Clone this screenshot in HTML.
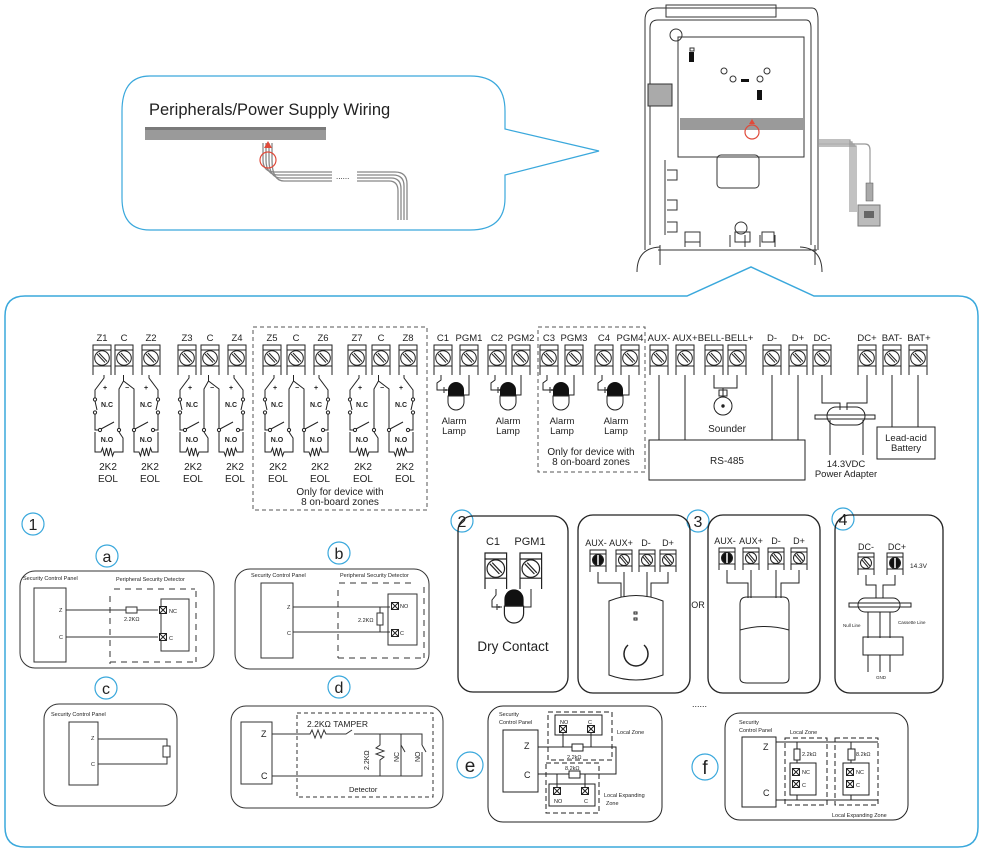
<!DOCTYPE html>
<html><head><meta charset="utf-8"><style>
html,body{margin:0;padding:0;background:#fff}
svg{display:block}
text{font-family:"Liberation Sans",sans-serif;fill:#222}
</style></head><body>
<svg width="985" height="853" viewBox="0 0 985 853" xmlns="http://www.w3.org/2000/svg">
<defs>
<g id="t" fill="none" stroke="#222" stroke-width="1">
<path d="M0,30 V0 H18 V30"/><line x1="0" y1="5" x2="18" y2="5"/><line x1="0" y1="21" x2="18" y2="21"/>
<circle cx="9" cy="13" r="7.3" fill="#fff"/><line x1="4" y1="9" x2="12" y2="17.5"/><line x1="6" y1="8" x2="14" y2="16.5"/>
</g>
<g id="tb" fill="none" stroke="#222" stroke-width="1">
<path d="M0,22 V0 H16 V22"/><line x1="0" y1="4" x2="16" y2="4"/><line x1="0" y1="16" x2="16" y2="16"/>
<circle cx="8" cy="10" r="5.5" fill="#111"/><line x1="8" y1="5" x2="8" y2="15" stroke="#fff" stroke-width="1.5"/>
</g>
<g id="tw" fill="none" stroke="#222" stroke-width="1">
<path d="M0,22 V0 H16 V22"/><line x1="0" y1="4" x2="16" y2="4"/><line x1="0" y1="16" x2="16" y2="16"/>
<circle cx="8" cy="10" r="5.5" fill="#fff"/><line x1="4" y1="7" x2="10" y2="14"/><line x1="6" y1="6" x2="12" y2="13"/>
</g>
<g id="zp" fill="none" stroke="#222" stroke-width="1">
<path d="M2,375 V378 L-7,390 V398"/><path d="M-7,401 L-5,410"/><path d="M-7,414 V430 H-3"/>
<circle cx="-7" cy="399.5" r="1.6"/><circle cx="-7" cy="412.5" r="1.6"/>
<circle cx="-2" cy="430" r="1.6"/><path d="M-1,429 L12,422"/><circle cx="17" cy="430" r="1.6"/>
<path d="M21.5,375 V381 L17,389 V428"/><path d="M21.5,381 L32,389 V428"/>
<circle cx="32" cy="430" r="1.6"/><path d="M33,429 L46,422"/><circle cx="51" cy="430" r="1.6"/>
<path d="M47,375 V378 L56,390 V398"/><path d="M56,401 L54,410"/><path d="M56,414 V430 H52"/>
<circle cx="56" cy="399.5" r="1.6"/><circle cx="56" cy="412.5" r="1.6"/>
<path d="M-7,432 V452 H-1 l1.5,-4 l2,8 l2,-8 l2,8 l2,-8 l2,8 l1.5,-4 H21 V438 L17,432"/>
<path d="M56,432 V452 H50 l-1.5,-4 l-2,8 l-2,-8 l-2,8 l-2,-8 l-2,8 l-1.5,-4 H32 V438 L32,432"/>
</g>
<g id="zt" font-size="7" font-weight="bold">
<text x="3" y="390" text-anchor="middle">+</text><text x="25" y="390" text-anchor="middle">−</text><text x="44" y="390" text-anchor="middle">+</text>
<text x="5" y="407" text-anchor="middle">N.C</text><text x="44" y="407" text-anchor="middle">N.C</text>
<text x="5" y="442" text-anchor="middle">N.O</text><text x="44" y="442" text-anchor="middle">N.O</text>
</g>
<g id="lamp"><path d="M-8,0 A8,8 0 0 1 8,0 V6 H-8 Z" fill="#111"/><path d="M-8,6 H8 V12 A8,8 0 0 1 -8,12 Z" fill="#fff" stroke="#222"/></g>
<g id="xb"><rect x="-3.5" y="-3.5" width="7" height="7" fill="#fff" stroke="#222"/><path d="M-3.5,-3.5 L3.5,3.5 M3.5,-3.5 L-3.5,3.5" stroke="#222"/></g>
</defs>

<!-- top callout -->
<path d="M150,76 H470 Q505,76 505,111 V129 L599,151 L505,175 V198 Q505,230 470,230 H150 Q122,230 122,198 V111 Q122,76 150,76 Z" fill="#fff" stroke="#3aa8dc" stroke-width="1.2"/>
<text x="149" y="115" font-size="16.5" fill="#333">Peripherals/Power Supply Wiring</text>
<rect x="145" y="127" width="181" height="13" fill="#9a9a9a"/>
<rect x="145" y="127" width="181" height="3" fill="#7a7a7a"/>
<g stroke="#888" stroke-width="1.3" fill="none">
<path d="M263,143 V160 Q263,172 275,172 H332"/><path d="M266,143 V160 Q266,175 278,175 H332"/><path d="M269,143 V160 Q269,178 281,178 H332"/><path d="M272,143 V160 Q272,181 284,181 H332"/>
<path d="M357,172 H395 Q407,172 407,184 V220"/><path d="M357,175 H393 Q404,175 404,186 V220"/><path d="M357,178 H391 Q401,178 401,189 V220"/><path d="M357,181 H389 Q398,181 398,191 V220"/>
</g>
<text x="336" y="179" font-size="8" fill="#555">......</text>
<circle cx="268" cy="160" r="8" fill="none" stroke="#e04a3a" stroke-width="1.2"/>
<path d="M264,148 L268,141 L272,148 Z" fill="#e04a3a"/>

<!-- device -->
<g fill="none" stroke="#333" stroke-width="1">
<path d="M645,250 V20 Q645,8 657,8 H812 Q818,8 818,20 V250"/>
<path d="M650,245 V28 Q650,20 658,20 H806 Q811,20 811,28 V245"/>
<rect x="666" y="5" width="110" height="12"/>
<rect x="678" y="37" width="126" height="120"/>
<path d="M658,250 H817 M660,245 V265 M815,245 V265"/>
<path d="M637,272 Q637,248 660,247 M822,272 Q822,248 800,247"/>
<path d="M665,160 V235 M667,170 h10 v10 h-10 M667,200 h10 v10 h-10 M667,222 h10 v10 h-10"/>
<rect x="717" y="155" width="42" height="33" rx="4"/>
<circle cx="676" cy="35" r="6"/><circle cx="741" cy="228" r="6"/>
<path d="M685,235 v12 M700,235 v12 M730,235 v12 M745,235 v12 M760,235 v12 M775,235 v12"/>
<rect x="685" y="232" width="15" height="10"/><rect x="735" y="232" width="15" height="10"/><rect x="762" y="232" width="12" height="10"/>
</g>
<rect x="690" y="48" width="4" height="3" fill="none" stroke="#333"/>
<rect x="689" y="52" width="5" height="10" fill="#111"/><rect x="757" y="90" width="5" height="10" fill="#111"/>
<rect x="741" y="79" width="8" height="3" fill="#111"/>
<circle cx="724" cy="71" r="3" fill="none" stroke="#333"/><circle cx="767" cy="71" r="3" fill="none" stroke="#333"/>
<circle cx="733" cy="79" r="3" fill="none" stroke="#333"/><circle cx="760" cy="79" r="3" fill="none" stroke="#333"/>
<rect x="648" y="84" width="24" height="22" fill="#aaa" stroke="#333"/>
<rect x="680" y="118" width="123" height="12" fill="#9a9a9a"/>
<circle cx="752" cy="132" r="7" fill="none" stroke="#e04a3a" stroke-width="1.2"/>
<path d="M749,124 L752,119 L755,124 Z" fill="#e04a3a"/>
<g stroke="#999" stroke-width="1.2" fill="none">
<path d="M818,140 H850 V212"/><path d="M818,142 H852 V212"/><path d="M818,144 H854 V212"/><path d="M818,146 H856 V212"/><path d="M818,144 H865 Q870,144 870,150 V185"/>
</g>
<rect x="866" y="183" width="7" height="18" fill="#aaa" stroke="#555" stroke-width="0.5"/>
<rect x="858" y="205" width="22" height="21" fill="#bbb" stroke="#777"/>
<rect x="864" y="211" width="10" height="7" fill="#666"/>

<!-- main frame -->
<path d="M25,296 H687 L751,267 L814,296 H958 Q978,296 978,316 V827 Q978,847 958,847 H25 Q5,847 5,827 V316 Q5,296 25,296 Z" fill="none" stroke="#3aa8dc" stroke-width="1.5"/>

<!-- dashed boxes -->
<rect x="253" y="327" width="174" height="183" fill="none" stroke="#555" stroke-dasharray="4,3"/>
<rect x="538" y="327" width="107" height="145" fill="none" stroke="#555" stroke-dasharray="4,3"/>

<!-- terminal labels -->
<g font-size="9.5" text-anchor="middle">
<text x="102" y="341">Z1</text><text x="124" y="341">C</text><text x="151" y="341">Z2</text>
<text x="187" y="341">Z3</text><text x="210" y="341">C</text><text x="237" y="341">Z4</text>
<text x="272" y="341">Z5</text><text x="296" y="341">C</text><text x="323" y="341">Z6</text>
<text x="357" y="341">Z7</text><text x="381" y="341">C</text><text x="408" y="341">Z8</text>
<text x="443" y="341">C1</text><text x="469" y="341">PGM1</text><text x="497" y="341">C2</text><text x="521" y="341">PGM2</text>
<text x="549" y="341">C3</text><text x="574" y="341">PGM3</text><text x="604" y="341">C4</text><text x="630" y="341">PGM4</text>
<text x="659" y="341">AUX-</text><text x="685" y="341">AUX+</text><text x="711" y="341">BELL-</text><text x="739" y="341">BELL+</text>
<text x="772" y="341">D-</text><text x="798" y="341">D+</text><text x="822" y="341">DC-</text>
<text x="867" y="341">DC+</text><text x="892" y="341">BAT-</text><text x="919" y="341">BAT+</text>
</g>
<g>
<use href="#t" x="93" y="345"/><use href="#t" x="115" y="345"/><use href="#t" x="142" y="345"/>
<use href="#t" x="178" y="345"/><use href="#t" x="201" y="345"/><use href="#t" x="228" y="345"/>
<use href="#t" x="263" y="345"/><use href="#t" x="287" y="345"/><use href="#t" x="314" y="345"/>
<use href="#t" x="348" y="345"/><use href="#t" x="372" y="345"/><use href="#t" x="399" y="345"/>
<use href="#t" x="434" y="345"/><use href="#t" x="460" y="345"/><use href="#t" x="488" y="345"/><use href="#t" x="512" y="345"/>
<use href="#t" x="540" y="345"/><use href="#t" x="565" y="345"/><use href="#t" x="595" y="345"/><use href="#t" x="621" y="345"/>
<use href="#t" x="650" y="345"/><use href="#t" x="676" y="345"/><use href="#t" x="705" y="345"/><use href="#t" x="728" y="345"/>
<use href="#t" x="763" y="345"/><use href="#t" x="789" y="345"/><use href="#t" x="813" y="345"/>
<use href="#t" x="858" y="345"/><use href="#t" x="883" y="345"/><use href="#t" x="909" y="345"/>
</g>
<use href="#zp" x="102" y="0"/><use href="#zp" x="187" y="0"/><use href="#zp" x="272" y="0"/><use href="#zp" x="357" y="0"/>
<use href="#zt" x="102" y="0"/><use href="#zt" x="187" y="0"/><use href="#zt" x="272" y="0"/><use href="#zt" x="357" y="0"/>
<g font-size="10" text-anchor="middle">
<text x="108" y="470">2K2</text><text x="108" y="482">EOL</text><text x="150" y="470">2K2</text><text x="150" y="482">EOL</text>
<text x="193" y="470">2K2</text><text x="193" y="482">EOL</text><text x="235" y="470">2K2</text><text x="235" y="482">EOL</text>
<text x="278" y="470">2K2</text><text x="278" y="482">EOL</text><text x="320" y="470">2K2</text><text x="320" y="482">EOL</text>
<text x="363" y="470">2K2</text><text x="363" y="482">EOL</text><text x="405" y="470">2K2</text><text x="405" y="482">EOL</text>
<text x="340" y="495">Only for device with</text><text x="340" y="505">8 on-board zones</text>
<text x="591" y="455">Only for device with</text><text x="591" y="465">8 on-board zones</text>
</g>
<!-- alarm lamps -->
<g fill="none" stroke="#222">
<path d="M441,375 V380 L437,383 V390 H448 M444,387 V393 M446,389 V391 M469,375 V395 H461"/>
<path d="M495,375 V380 L491,383 V390 H502 M498,387 V393 M500,389 V391 M521,375 V395 H515"/>
<path d="M547,375 V380 L543,383 V390 H554 M550,387 V393 M552,389 V391 M574,375 V395 H566"/>
<path d="M602,375 V380 L598,383 V390 H609 M605,387 V393 M607,389 V391 M629,375 V395 H621"/>
</g>
<use href="#lamp" x="456" y="390"/><use href="#lamp" x="508" y="390"/><use href="#lamp" x="561" y="390"/><use href="#lamp" x="615" y="390"/>
<g font-size="9.5" text-anchor="middle">
<text x="454" y="424">Alarm</text><text x="454" y="434">Lamp</text><text x="508" y="424">Alarm</text><text x="508" y="434">Lamp</text>
<text x="562" y="424">Alarm</text><text x="562" y="434">Lamp</text><text x="616" y="424">Alarm</text><text x="616" y="434">Lamp</text>
</g>
<!-- AUX / bell / RS485 -->
<g fill="none" stroke="#222">
<path d="M659,375 V440 M685,375 V440 M772,375 V440 M798,375 V440"/>
<rect x="649" y="440" width="156" height="40"/>
<path d="M714,375 V388 H737 V375 M723,388 V396"/>
<rect x="719" y="390" width="8" height="6"/>
<circle cx="723" cy="406" r="9"/><circle cx="723" cy="406" r="1.2" fill="#222"/>
<path d="M822,375 V403 H840 V410 M867,375 V403 H847 V410"/>
<rect x="815" y="415" width="60" height="4"/>
<rect x="827" y="407" width="38" height="18" rx="9"/>
<path d="M830,420 V455 M863,420 V455"/>
<path d="M892,375 V427 M918,375 V427"/>
<rect x="877" y="427" width="58" height="32"/>
</g>
<text x="727" y="464" font-size="10" text-anchor="middle">RS-485</text>
<text x="727" y="432" font-size="10" text-anchor="middle">Sounder</text>
<text x="846" y="467" font-size="9.5" text-anchor="middle">14.3VDC</text>
<text x="846" y="477" font-size="9.5" text-anchor="middle">Power Adapter</text>
<text x="906" y="441" font-size="9.5" text-anchor="middle">Lead-acid</text>
<text x="906" y="451" font-size="9.5" text-anchor="middle">Battery</text>

<!-- circled numbers -->
<g fill="#fff" stroke="#3aa8dc" stroke-width="1.2">
<circle cx="33" cy="524" r="11"/><circle cx="107" cy="556" r="11"/><circle cx="339" cy="553" r="11"/>
<circle cx="106" cy="688" r="11"/><circle cx="339" cy="687" r="11"/>
<circle cx="462" cy="521" r="11"/><circle cx="698" cy="521" r="11"/><circle cx="843" cy="519" r="11"/>
<circle cx="470" cy="765" r="13"/><circle cx="705" cy="767" r="13"/>
</g>
<g font-size="16" fill="#3aa8dc" text-anchor="middle">
<text x="33" y="530" fill="#3aa8dc">1</text><text x="107" y="562" fill="#3aa8dc">a</text><text x="339" y="559" fill="#3aa8dc">b</text>
<text x="106" y="694" fill="#3aa8dc">c</text><text x="339" y="693" fill="#3aa8dc">d</text>
<text x="462" y="527" fill="#3aa8dc">2</text><text x="698" y="527" fill="#3aa8dc">3</text><text x="843" y="525" fill="#3aa8dc">4</text>
<text x="470" y="772" fill="#3aa8dc" font-size="19">e</text><text x="705" y="774" fill="#3aa8dc" font-size="19">f</text>
</g>

<!-- panel a -->
<g fill="none" stroke="#333">
<rect x="20" y="571" width="194" height="97" rx="15"/>
<rect x="34" y="588" width="32" height="74"/>
<path d="M66,610 H158 M66,637 H158"/>
<rect x="126" y="607" width="11" height="6" fill="#fff"/>
<path d="M110,596 V664 M114,589 H195 M196,591 V662 M110,662 H195" stroke-dasharray="6,5"/>
<rect x="161" y="599" width="28" height="52"/>
</g>
<use href="#xb" x="163" y="610"/><use href="#xb" x="163" y="637"/>
<g font-size="5.5"><text x="23" y="580">Security Control Panel</text><text x="116" y="581">Peripheral Security Detector</text>
<text x="59" y="612">Z</text><text x="59" y="639">C</text><text x="124" y="621">2.2KΩ</text><text x="169" y="613">NC</text><text x="169" y="640">C</text></g>
<!-- panel b -->
<g fill="none" stroke="#333">
<rect x="235" y="569" width="194" height="100" rx="15"/>
<rect x="261" y="583" width="32" height="75"/>
<path d="M293,607 H390 M293,632 H390 M380,607 V632"/>
<rect x="377" y="613" width="6" height="12" fill="#fff"/>
<path d="M338,590 V658 M339,583 H415 M424,587 V658 M338,658 H424" stroke-dasharray="6,5"/>
<rect x="388" y="594" width="29" height="51"/>
</g>
<use href="#xb" x="395" y="606"/><use href="#xb" x="395" y="633"/>
<g font-size="5.5"><text x="251" y="577">Security Control Panel</text><text x="340" y="577">Peripheral Security Detector</text>
<text x="287" y="609">Z</text><text x="287" y="635">C</text><text x="358" y="622">2.2KΩ</text><text x="400" y="608">NO</text><text x="400" y="635">C</text></g>
<!-- panel c -->
<g fill="none" stroke="#333">
<rect x="44" y="704" width="133" height="102" rx="15"/>
<rect x="69" y="722" width="29" height="63"/>
<path d="M98,739 H167 V764 H98"/>
<rect x="163" y="746" width="7" height="11" fill="#fff"/>
</g>
<g font-size="5.5"><text x="51" y="716">Security Control Panel</text><text x="91" y="740">Z</text><text x="91" y="766">C</text></g>
<!-- panel d -->
<g fill="none" stroke="#333">
<rect x="231" y="706" width="212" height="102" rx="15"/>
<rect x="241" y="722" width="31" height="62"/>
<rect x="297" y="713" width="136" height="84" stroke-dasharray="4,3"/>
<path d="M272,734 H310 l2,-4 l3,8 l3,-8 l3,8 l3,-8 l2,4 H346 L352,730 M354,734 H422 V745 M272,776 H422 V760 M380,734 V745 l-4,3 l8,3 l-8,3 l8,3 l-4,3 V776 M401,734 V776 M422,745 L426,752 M422,760 V752"/>
<path d="M401,745 L405,752"/>
</g>
<text x="307" y="727" font-size="8.5">2.2KΩ  TAMPER</text>
<text x="261" y="737" font-size="9">Z</text><text x="261" y="779" font-size="9">C</text>
<text x="349" y="792" font-size="7.5">Detector</text>
<text x="369" y="770" font-size="7" transform="rotate(-90 369 770)">2.2KΩ</text>
<text x="399" y="762" font-size="7" transform="rotate(-90 399 762)">NC</text>
<text x="420" y="762" font-size="7" transform="rotate(-90 420 762)">NO</text>

<!-- panel 2 -->
<rect x="458" y="516" width="110" height="176" rx="15" fill="none" stroke="#222" stroke-width="1.3"/>
<text x="493" y="545" font-size="11" text-anchor="middle">C1</text><text x="530" y="545" font-size="11" text-anchor="middle">PGM1</text>
<g transform="translate(485,553) scale(1.2)"><use href="#t"/></g>
<g transform="translate(520,553) scale(1.2)"><use href="#t"/></g>
<g fill="none" stroke="#222"><path d="M496,589 V595 L492,600 V607 H502 M497,604 V610 M499,606 V608 M531,589 V607 H523"/></g>
<g transform="translate(514,599) scale(1.2)"><use href="#lamp"/></g>
<text x="513" y="651" font-size="13.5" text-anchor="middle">Dry Contact</text>
<!-- keypad panel -->
<rect x="578" y="515" width="112" height="178" rx="15" fill="none" stroke="#222" stroke-width="1.3"/>
<g font-size="9" text-anchor="middle"><text x="596" y="546">AUX-</text><text x="621" y="546">AUX+</text><text x="646" y="546">D-</text><text x="668" y="546">D+</text></g>
<use href="#tb" x="590" y="550"/><use href="#tw" x="616" y="550"/><use href="#tw" x="639" y="550"/><use href="#tw" x="660" y="550"/>
<g fill="none" stroke="#222"><path d="M598,572 V583 H621 V597 M624,572 V597 M647,572 V597 M668,572 V583 H651 V597"/>
<path d="M609,601 Q636,590 663,601 V675 Q636,685 609,675 Z"/><path d="M628,645 A12,12 0 1 0 644,645" stroke-width="1.5"/>
<rect x="634" y="612" width="3" height="2"/><rect x="634" y="618" width="3" height="2"/></g>
<text x="698" y="608" font-size="9" text-anchor="middle">OR</text>
<!-- card reader panel -->
<rect x="708" y="515" width="112" height="178" rx="15" fill="none" stroke="#222" stroke-width="1.3"/>
<g font-size="9" text-anchor="middle"><text x="725" y="544">AUX-</text><text x="751" y="544">AUX+</text><text x="776" y="544">D-</text><text x="799" y="544">D+</text></g>
<use href="#tb" x="719" y="548"/><use href="#tw" x="743" y="548"/><use href="#tw" x="768" y="548"/><use href="#tw" x="791" y="548"/>
<g fill="none" stroke="#222"><path d="M727,570 V583 H748 V598 M751,570 V598 M776,570 V598 M799,570 V583 H781 V598"/>
<path d="M740,604 Q740,597 747,597 H783 Q789,597 789,604 V678 Q789,683 783,683 H747 Q740,683 740,678 Z"/><path d="M740,630 Q765,623 789,630"/></g>
<!-- panel 4 -->
<rect x="835" y="515" width="108" height="178" rx="15" fill="none" stroke="#222" stroke-width="1.3"/>
<g font-size="9" text-anchor="middle"><text x="866" y="550">DC-</text><text x="897" y="550">DC+</text></g>
<text x="910" y="568" font-size="6.5">14.3V</text>
<use href="#tw" x="858" y="553"/><use href="#tb" x="887" y="553"/>
<g fill="none" stroke="#222"><path d="M866,575 V585 H876 V598 M895,575 V585 H883 V598"/>
<rect x="849" y="603" width="62" height="4"/><rect x="858" y="598" width="42" height="14" rx="7"/>
<path d="M868,612 V638 M880,612 V638 M890,612 V638"/><rect x="863" y="637" width="40" height="18"/>
<path d="M868,655 V672 M880,655 V672 M890,655 V672"/></g>
<g font-size="4.5"><text x="843" y="627">Null Line</text><text x="898" y="624">Cassette Line</text><text x="876" y="679">GND</text></g>
<text x="692" y="707" font-size="9" fill="#444">......</text>
<!-- panel e -->
<g fill="none" stroke="#222">
<rect x="488" y="706" width="174" height="116" rx="15"/>
<rect x="503" y="730" width="35" height="62"/>
<path d="M538,747 H616 V774 H538 M563,747 V733 M591,747 V733 M557,774 V787 M585,774 V787"/>
<rect x="572" y="744" width="11" height="7" fill="#fff"/><rect x="569" y="771" width="11" height="7" fill="#fff"/>
<rect x="548" y="712" width="64" height="48" stroke-dasharray="5,3"/>
<rect x="546" y="763" width="53" height="50" stroke-dasharray="5,3"/>
<rect x="555" y="715" width="47" height="20"/><rect x="549" y="784" width="46" height="22"/>
</g>
<use href="#xb" x="563" y="729"/><use href="#xb" x="591" y="729"/><use href="#xb" x="557" y="791"/><use href="#xb" x="585" y="791"/>
<g font-size="5.5"><text x="499" y="716">Security</text><text x="499" y="724">Control Panel</text>
<text x="560" y="724">NO</text><text x="588" y="724">C</text><text x="567" y="759">2.2kΩ</text><text x="565" y="770">8.2kΩ</text>
<text x="554" y="803">NO</text><text x="584" y="803">C</text>
<text x="617" y="734">Local Zone</text><text x="604" y="797">Local Expanding</text><text x="606" y="805">Zone</text></g>
<text x="524" y="749" font-size="9">Z</text><text x="524" y="778" font-size="9">C</text>
<!-- panel f -->
<g fill="none" stroke="#222">
<rect x="725" y="713" width="183" height="107" rx="15"/>
<rect x="742" y="737" width="34" height="70"/>
<path d="M776,742 H878 M776,800 H878 M797,742 V763 M851,742 V763 M797,795 V800 M851,795 V800"/>
<rect x="794" y="749" width="6" height="11" fill="#fff"/><rect x="848" y="749" width="7" height="11" fill="#fff"/>
<rect x="785" y="738" width="42" height="67" stroke-dasharray="5,3"/>
<rect x="835" y="738" width="43" height="67" stroke-dasharray="5,3"/>
<rect x="790" y="763" width="26" height="32"/><rect x="843" y="763" width="26" height="32"/>
</g>
<use href="#xb" x="796" y="772"/><use href="#xb" x="796" y="784"/><use href="#xb" x="850" y="772"/><use href="#xb" x="850" y="784"/>
<g font-size="5.5"><text x="739" y="724">Security</text><text x="739" y="732">Control Panel</text><text x="790" y="734">Local Zone</text>
<text x="802" y="756">2.2kΩ</text><text x="856" y="756">8.2kΩ</text>
<text x="802" y="774">NC</text><text x="802" y="787">C</text><text x="856" y="774">NC</text><text x="856" y="787">C</text>
<text x="832" y="817">Local Expanding Zone</text></g>
<text x="763" y="750" font-size="9">Z</text><text x="763" y="796" font-size="9">C</text>
</svg>
</body></html>
